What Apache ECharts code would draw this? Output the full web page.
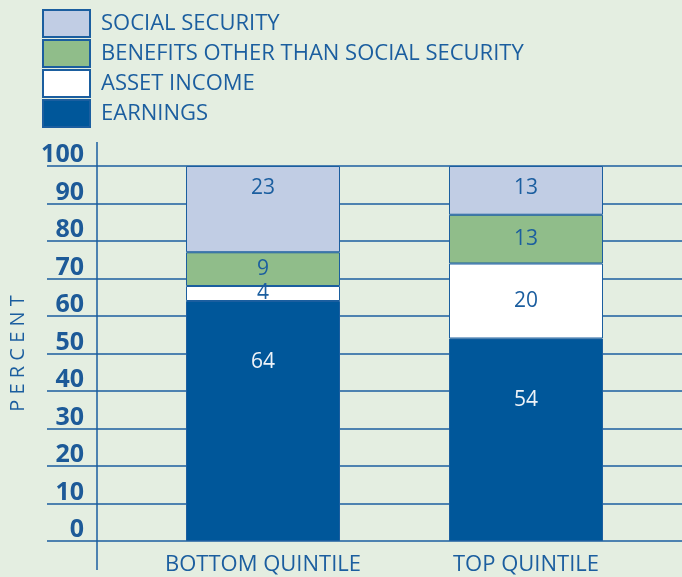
<!DOCTYPE html>
<html>
<head>
<meta charset="utf-8">
<script src="https://cdn.jsdelivr.net/npm/echarts@6/dist/echarts.min.js"></script>
<style>
  html, body { margin: 0; padding: 0; background: #e4eee1; }
  #chart { width: 682px; height: 577px; }
</style>
</head>
<body>
<div id="chart"></div>
<script>
// data
const categories = ['BOTTOM QUINTILE', 'TOP QUINTILE']
const earnings = [64, 54]
const assetIncome = [4, 20]
const otherBenefits = [9, 13]
const socialSecurity = [23, 13]
const yTicks = { min: 0, max: 100, interval: 10 }

const BLUE = '#1b5e9f'
const FONT = 'Open Sans'

const chart = echarts.init(document.getElementById('chart'))

function stackSeries(name, data, color, label) {
  return {
    name,
    type: 'bar',
    stack: 'total',
    xAxisIndex: 1,
    yAxisIndex: 1,
    barWidth: 154,
    data,
    itemStyle: { color, borderColor: BLUE, borderWidth: 1 },
    label: Object.assign({
      show: true,
      fontFamily: FONT,
      fontSize: 21,
      color: BLUE,
      position: 'inside',
    }, label),
  }
}

chart.setOption({
  backgroundColor: '#e4eee1',
  animation: false,
  textStyle: { fontFamily: FONT },
  legend: {
    orient: 'vertical',
    left: 42,
    top: 9,
    padding: 0,
    itemGap: 1,
    itemWidth: 47,
    itemHeight: 27,
    icon: 'rect',
    selectedMode: false,
    data: ['SOCIAL SECURITY', 'BENEFITS OTHER THAN SOCIAL SECURITY', 'ASSET INCOME', 'EARNINGS'],
    textStyle: { fontFamily: FONT, fontSize: 22, color: BLUE, padding: [0, 0, 0, 6] },
  },
  grid: [
    { left: 97, right: 0, top: 166, bottom: 36 },
    { left: 131.5, right: 24.5, top: 166, bottom: 36 },
  ],
  xAxis: [
    { gridIndex: 0, type: 'value', show: false },
    {
      gridIndex: 1,
      type: 'category',
      data: categories,
      axisLine: { show: false },
      axisTick: { show: false },
      axisLabel: { margin: 13, fontFamily: FONT, fontSize: 22, color: BLUE },
    },
  ],
  yAxis: [
    {
      gridIndex: 0,
      type: 'value',
      min: yTicks.min,
      max: yTicks.max,
      interval: yTicks.interval,
      name: 'P E R C E N T',
      nameLocation: 'middle',
      nameRotate: 90,
      nameGap: 79,
      nameTextStyle: { fontFamily: FONT, fontSize: 20, color: BLUE },
      axisLine: { show: false },
      axisTick: { show: true, length: 60, lineStyle: { color: BLUE, width: 1.5 } },
      splitLine: { lineStyle: { color: BLUE, width: 1.5 } },
      axisLabel: {
        margin: 23,
        fontFamily: FONT,
        fontWeight: 'bold',
        fontSize: 25,
        lineHeight: 22,
        color: '#1d5a98',
        verticalAlign: 'bottom',
      },
    },
    { gridIndex: 1, type: 'value', min: yTicks.min, max: yTicks.max, show: false },
  ],
  graphic: [
    {
      type: 'line',
      shape: { x1: 97, y1: 142, x2: 97, y2: 570 },
      style: { stroke: BLUE, lineWidth: 1.5 },
      z: 10,
    },
  ],
  series: [
    stackSeries('EARNINGS', earnings, '#00579a', { position: 'insideTop', distance: 51, color: '#eef3f8' }),
    stackSeries('ASSET INCOME', assetIncome, '#ffffff', {}),
    stackSeries('BENEFITS OTHER THAN SOCIAL SECURITY', otherBenefits, '#90bd8a', {}),
    stackSeries('SOCIAL SECURITY', socialSecurity, '#c1cde4', { position: 'insideTop', distance: 12 }),
  ],
})
</script>
</body>
</html>
